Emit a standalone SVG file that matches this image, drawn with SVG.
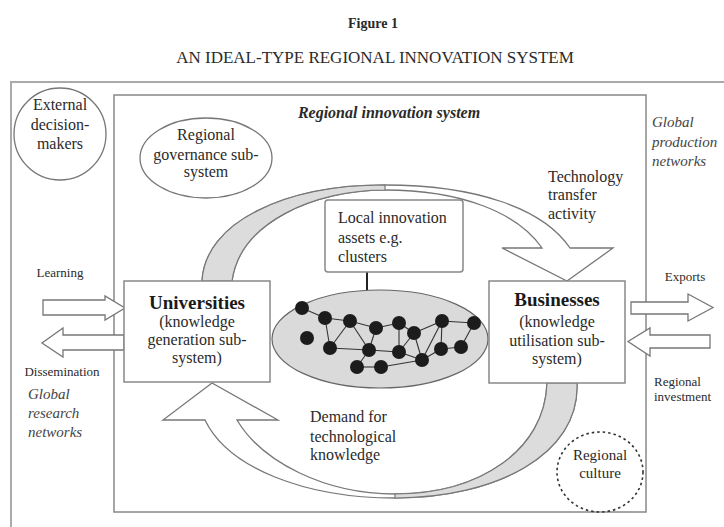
<svg xmlns="http://www.w3.org/2000/svg" width="724" height="527" viewBox="0 0 724 527">
<style>
  text { font-family: "Liberation Serif", "Times New Roman", serif; fill: #2a2a2a; }
  .t16 { font-size: 16px; }
  .t13 { font-size: 13px; }
  .it { font-size: 15px; font-style: italic; fill: #444; }
  .bold { font-size: 19px; font-weight: bold; fill: #1a1a1a; }
  .mid { text-anchor: middle; }
  .box { fill: #fff; stroke: #888; stroke-width: 1.5; }
  .oval { fill: #fff; stroke: #777; stroke-width: 1.3; }
  .blk { fill: #fff; stroke: #777; stroke-width: 1.3; stroke-linejoin: miter; }
  .shade { fill: #dcdcdc; stroke: #777; stroke-width: 1.2; }
  .edge { stroke: #333; stroke-width: 1.1; }
  .dot { fill: #1c1c1c; }
</style>
<defs>
  <marker id="ah" markerWidth="8" markerHeight="8" refX="6" refY="4" orient="auto" markerUnits="userSpaceOnUse">
    <path d="M0,0 L8,4 L0,8 Z" fill="#222"/>
  </marker>
</defs>
<rect x="0" y="0" width="724" height="527" fill="#fff"/>

<g id="titles">
  <text x="373" y="28" class="mid" style="font-size:14px;font-weight:bold">Figure 1</text>
  <text x="375" y="63" class="mid" style="font-size:17px">AN IDEAL-TYPE REGIONAL INNOVATION SYSTEM</text>
</g>

<g id="outer-frame">
  <path d="M724,82 H11 V527" fill="none" stroke="#aaa" stroke-width="2"/>
</g>

<g id="regional-innovation-system">
  <rect x="114" y="95" width="532" height="417" fill="none" stroke="#888" stroke-width="1.5"/>
  <text x="389" y="118" class="mid" style="font-size:16px;font-weight:bold;font-style:italic">Regional innovation system</text>
</g>

<g id="external-decision-makers">
  <ellipse cx="60" cy="134" rx="46" ry="46" class="oval"/>
  <text x="60" y="110" class="t16 mid">External</text>
  <text x="60" y="130" class="t16 mid">decision-</text>
  <text x="60" y="149" class="t16 mid">makers</text>
</g>

<g id="regional-governance">
  <ellipse cx="206" cy="158" rx="66" ry="40" class="oval"/>
  <text x="206" y="140" class="t16 mid">Regional</text>
  <text x="206" y="160" class="t16 mid">governance sub-</text>
  <text x="206" y="177" class="t16 mid">system</text>
</g>

<g id="connectors">
  <!-- top curved arrow: technology transfer -->
  <path d="M202,281 C205,222 285,185 385,185 C475,185 543,208 570,248 L613,248 L567,281 L502,248 L542,248 C517,212 460,190 385,190 C315,190 240,222 232,281 Z" class="blk"/>
  <path d="M202,281 C205,222 285,185 385,185 L385,190 C315,190 240,222 232,281 Z" class="shade"/>
  <!-- bottom curved arrow: demand -->
  <path d="M577,383 C580,455 495,498 395,498 C305,498 228,468 205,420 L163,420 L212,383 L278,420 L237,420 C262,462 325,494 395,494 C480,494 545,450 547,383 Z" class="blk"/>
  <path d="M577,383 C580,455 495,498 395,498 L395,494 C480,494 545,450 547,383 Z" class="shade"/>
  <!-- block arrows left -->
  <polygon points="43,300 105,300 105,296 125,308 105,320 105,315 43,315" class="blk"/>
  <polygon points="124,335 63,335 63,328 42,343 63,357 63,350 124,350" class="blk"/>
  <!-- block arrows right -->
  <polygon points="631,302 688,302 688,294 713,307.5 688,321 688,314 631,314" class="blk"/>
  <polygon points="710,335 650,335 650,328 628,341.5 650,356 650,348 710,348" class="blk"/>
  <!-- local innovation pointer -->
  <line x1="367" y1="272" x2="367" y2="303" stroke="#222" stroke-width="2" marker-end="url(#ah)"/>
</g>

<g id="local-innovation-assets">
  <rect x="325" y="200" width="138" height="72" rx="3" class="box"/>
  <text x="338" y="223" class="t16">Local innovation</text>
  <text x="338" y="243" class="t16">assets e.g.</text>
  <text x="338" y="262" class="t16">clusters</text>
</g>

<g id="cluster-network">
  <ellipse cx="380" cy="339" rx="108" ry="49" fill="#dadada" stroke="#666" stroke-width="1.2"/>
  <g class="edge">
    <line x1="302" y1="308" x2="325" y2="318"/>
    <line x1="325" y1="318" x2="350" y2="321"/>
    <line x1="325" y1="318" x2="330" y2="348"/>
    <line x1="350" y1="321" x2="330" y2="348"/>
    <line x1="350" y1="321" x2="376" y2="328"/>
    <line x1="350" y1="321" x2="369" y2="350"/>
    <line x1="330" y1="348" x2="369" y2="350"/>
    <line x1="376" y1="328" x2="399" y2="323"/>
    <line x1="376" y1="328" x2="369" y2="350"/>
    <line x1="369" y1="350" x2="357" y2="367"/>
    <line x1="357" y1="367" x2="381" y2="367"/>
    <line x1="369" y1="350" x2="399" y2="352"/>
    <line x1="399" y1="323" x2="399" y2="352"/>
    <line x1="399" y1="323" x2="414" y2="333"/>
    <line x1="414" y1="333" x2="399" y2="352"/>
    <line x1="414" y1="333" x2="422" y2="360"/>
    <line x1="381" y1="367" x2="422" y2="360"/>
    <line x1="399" y1="352" x2="422" y2="360"/>
    <line x1="422" y1="360" x2="442" y2="321"/>
    <line x1="414" y1="333" x2="442" y2="321"/>
    <line x1="442" y1="321" x2="474" y2="323"/>
    <line x1="442" y1="321" x2="441" y2="349"/>
    <line x1="422" y1="360" x2="441" y2="349"/>
    <line x1="441" y1="349" x2="461" y2="347"/>
    <line x1="461" y1="347" x2="474" y2="323"/>
  </g>
  <g class="dot">
    <circle cx="302" cy="308" r="7"/>
    <circle cx="325" cy="318" r="7"/>
    <circle cx="307" cy="338" r="7"/>
    <circle cx="350" cy="321" r="7"/>
    <circle cx="330" cy="348" r="7"/>
    <circle cx="376" cy="328" r="7"/>
    <circle cx="399" cy="323" r="7"/>
    <circle cx="369" cy="350" r="7"/>
    <circle cx="357" cy="367" r="7"/>
    <circle cx="381" cy="367" r="7"/>
    <circle cx="399" cy="352" r="7"/>
    <circle cx="414" cy="333" r="7"/>
    <circle cx="422" cy="360" r="7"/>
    <circle cx="442" cy="321" r="7"/>
    <circle cx="441" cy="349" r="7"/>
    <circle cx="461" cy="347" r="7"/>
    <circle cx="474" cy="323" r="7"/>
  </g>
</g>

<g id="universities">
  <rect x="124" y="281" width="146" height="101" class="box"/>
  <text x="197" y="309" class="bold mid">Universities</text>
  <text x="197" y="327" class="t16 mid">(knowledge</text>
  <text x="197" y="345" class="t16 mid">generation sub-</text>
  <text x="197" y="363" class="t16 mid">system)</text>
</g>

<g id="businesses">
  <rect x="489" y="281" width="136" height="102" class="box"/>
  <text x="557" y="306" class="bold mid">Businesses</text>
  <text x="557" y="327" class="t16 mid">(knowledge</text>
  <text x="557" y="346" class="t16 mid">utilisation sub-</text>
  <text x="557" y="364" class="t16 mid">system)</text>
</g>

<g id="regional-culture">
  <ellipse cx="600" cy="472" rx="43" ry="40" fill="none" stroke="#333" stroke-width="1.6" stroke-dasharray="2.5,3"/>
  <text x="600" y="460" class="mid" style="font-size:15px">Regional</text>
  <text x="600" y="478" class="mid" style="font-size:15px">culture</text>
</g>

<g id="labels">
  <text x="60" y="277" class="t13 mid">Learning</text>
  <text x="62" y="376" class="t13 mid">Dissemination</text>
  <text x="28" y="399" class="it">Global</text>
  <text x="28" y="418" class="it">research</text>
  <text x="28" y="437" class="it">networks</text>
  <text x="652" y="127" class="it">Global</text>
  <text x="652" y="147" class="it">production</text>
  <text x="652" y="166" class="it">networks</text>
  <text x="548" y="182" class="t16">Technology</text>
  <text x="548" y="200" class="t16">transfer</text>
  <text x="548" y="219" class="t16">activity</text>
  <text x="685" y="281" class="t13 mid">Exports</text>
  <text x="654" y="386" class="t13">Regional</text>
  <text x="654" y="401" class="t13">investment</text>
  <text x="310" y="422" class="t16">Demand for</text>
  <text x="310" y="442" class="t16">technological</text>
  <text x="310" y="460" class="t16">knowledge</text>
</g>
</svg>
